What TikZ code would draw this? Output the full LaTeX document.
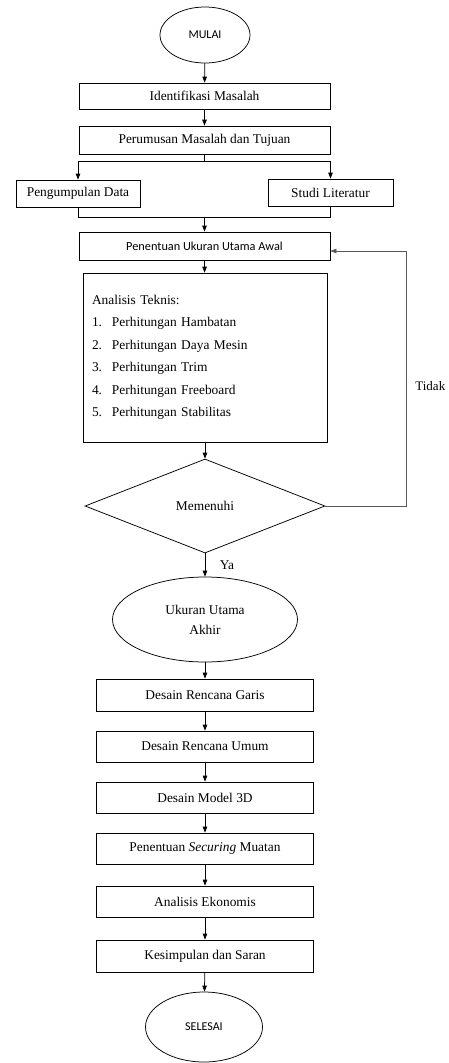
\documentclass[tikz,border=0pt]{standalone}
\usepackage{fontspec}
\setmainfont{Liberation Serif}
\newfontfamily\carl{Carlito}
\usetikzlibrary{shapes.geometric,arrows.meta}
\begin{document}
\begin{tikzpicture}[x=1pt,y=-1pt,
  line width=0.75pt,
  every node/.style={font=\fontsize{13.4}{16}\selectfont},
  box/.style={draw, rectangle, inner sep=0pt, minimum height=#1},
  box/.default=31,
  wide/.style={box=#1, minimum width=251},
  wide/.default=28,
  low/.style={box=#1, minimum width=217},
  low/.default=31,
  oval/.style={draw, ellipse, inner sep=0pt},
  arr/.style={-{Triangle[length=6pt,width=4.5pt]}},
  fbline/.style={draw=black!65, line width=0.7pt}
]
\useasboundingbox (0,0) rectangle (448,1063);

\node[oval, minimum width=90, minimum height=56, font=\carl\fontsize{12}{14}\selectfont] (mulai) at (205,35) {MULAI};
\node[wide=26] (ident) at (204.5,96) {Identifikasi Masalah};
\node[wide=28] (perum) at (204.5,140) {Perumusan Masalah dan Tujuan};
\node[box=27, minimum width=124] (peng) at (78,193.5) {Pengumpulan Data};
\node[box=27, minimum width=125] (studi) at (330.5,192.5) {Studi Literatur};
\node[wide=28, font=\carl\fontsize{12.3}{14}\selectfont] (penent) at (204.5,246) {Penentuan Ukuran Utama Awal};
\node[box=169, minimum width=244, text width=226, align=left,
      font=\fontsize{13.4}{22.5}\selectfont] (anal) at (205,357.5)
  {Analisis Teknis:\\
   \makebox[20pt][l]{1.}Perhitungan Hambatan\\
   \makebox[20pt][l]{2.}Perhitungan Daya Mesin\\
   \makebox[20pt][l]{3.}Perhitungan Trim\\
   \makebox[20pt][l]{4.}Perhitungan Freeboard\\
   \makebox[20pt][l]{5.}Perhitungan Stabilitas};
\node[draw, diamond, inner sep=0pt, minimum width=240, minimum height=94, aspect=2.55] (diam) at (205,506) {Memenuhi};
\node[oval, minimum width=185, minimum height=85, align=center, font=\fontsize{13.4}{20}\selectfont] (ukuran) at (205,619.5) {Ukuran Utama\\Akhir};
\node[low=32] (garis) at (205,695) {Desain Rencana Garis};
\node[low] (umum) at (205,746.5) {Desain Rencana Umum};
\node[low] (model) at (205,797.5) {Desain Model 3D};
\node[low] (secur) at (205,848.5) {Penentuan \textit{Securing} Muatan};
\node[low] (ekon) at (205,901.5) {Analisis Ekonomis};
\node[low=32] (kesim) at (205,956) {Kesimpulan dan Saran};
\node[oval, minimum width=117, minimum height=70, font=\carl\fontsize{12}{14}\selectfont] (selesai) at (204,1027) {SELESAI};

\node[anchor=west, inner sep=0pt, font=\fontsize{13}{16}\selectfont] (tidak) at (415,386) {Tidak};
\node (ya) at (227,565) {Ya};

% connectors
\draw[arr] (mulai) -- (ident);
\draw[arr] (ident) -- (perum);
\coordinate (split) at (204.5,161);
\draw (perum.south) -- (split);
\draw[arr] (split) -| (peng.north);
\draw[arr] (split) -| (studi.north);
\coordinate (merge) at (204.5,217);
\draw (peng.south) |- (merge);
\draw (studi.south) |- (merge);
\draw[arr] (merge) -- (penent.north);
\draw[arr] (penent) -- (anal);
\draw[arr] (anal) -- (diam);
\coordinate (fbc) at (406,251);
\draw[fbline] (diam.east) -| (fbc);
\draw[fbline, arr] (fbc) -- (fbc -| penent.east);
\draw[arr] (diam.south) -- (ukuran.north);
\draw[arr] (ukuran) -- (garis);
\draw[arr] (garis) -- (umum);
\draw[arr] (umum) -- (model);
\draw[arr] (model) -- (secur);
\draw[arr] (secur) -- (ekon);
\draw[arr] (ekon) -- (kesim);
\draw[arr] (kesim) -- (selesai);
\end{tikzpicture}
\end{document}
